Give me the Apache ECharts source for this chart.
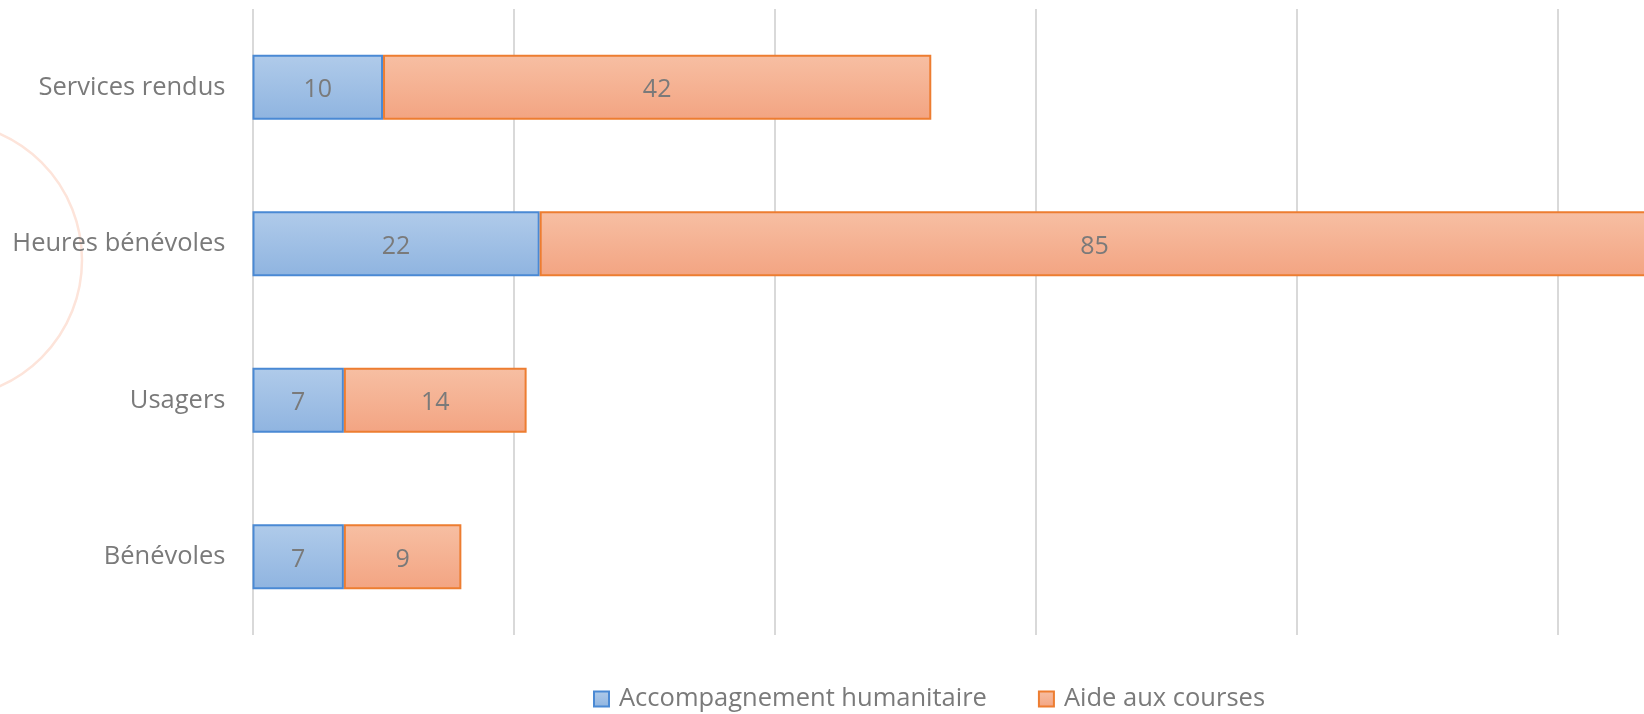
<!DOCTYPE html>
<html>
<head>
<meta charset="utf-8">
<title>Accompagnement humanitaire / Aide aux courses</title>
<script src="https://cdn.jsdelivr.net/npm/echarts@6/dist/echarts.min.js"></script>
<style>
    html, body { margin: 0; padding: 0; background: #fff; }
    #chart { width: 1644px; height: 714px; }
</style>
</head>
<body>
<div id="chart"></div>
<script>
// categories, bottom to top
const categories = ['Bénévoles', 'Usagers', 'Heures bénévoles', 'Services rendus'];
const accompagnement = [7, 7, 22, 10];
const aideCourses = [9, 14, 85, 42];
const seriesNames = ['Accompagnement humanitaire', 'Aide aux courses'];

const FONT = '"Open Sans", Lato, sans-serif';
const TEXT_GRAY = '#7a7a7a';

// the plot runs off the right edge in the source picture: axis stops where the canvas does
const AXIS_MAX = 106.6;

const vGrad = (top, bottom) => new echarts.graphic.LinearGradient(0, 0, 0, 1, [
    { offset: 0, color: top },
    { offset: 1, color: bottom }
]);

const chart = echarts.init(document.getElementById('chart'), null, { renderer: 'canvas' });

const barLabel = {
    show: true,
    position: 'inside',
    offset: [0, 3],
    color: TEXT_GRAY,
    fontSize: 25,
    fontFamily: FONT
};

chart.setOption({
    backgroundColor: '#ffffff',
    animation: false,
    textStyle: { fontFamily: FONT },
    // faint decorative arc on the left edge
    graphic: [{
        type: 'circle',
        z: -10,
        silent: true,
        shape: { cx: -56, cy: 260, r: 138 },
        style: { fill: 'none', stroke: '#fde4da', lineWidth: 2.5 }
    }],
    legend: {
        left: 593,
        top: 686,
        padding: 0,
        itemWidth: 15,
        itemHeight: 15,
        itemGap: 51,
        icon: 'rect',
        textStyle: { color: TEXT_GRAY, fontSize: 25.5, fontFamily: FONT, padding: [0, 0, 0, 5] },
        data: seriesNames
    },
    grid: { left: 252.5, top: 9, height: 626, right: 0 },
    xAxis: {
        type: 'value',
        min: 0,
        max: AXIS_MAX,
        interval: 20,
        axisLabel: { show: false },
        axisLine: { show: false },
        axisTick: { show: false },
        splitLine: { show: true, showMaxLine: false, lineStyle: { color: '#d9d9d9', width: 2 } }
    },
    yAxis: {
        type: 'category',
        data: categories,
        axisLine: { show: false },
        axisTick: { show: false },
        axisLabel: { color: TEXT_GRAY, fontSize: 25.5, fontFamily: FONT, margin: 27, padding: [5, 0, 0, 0] }
    },
    series: [
        {
            name: seriesNames[0],
            type: 'bar',
            stack: 'total',
            barWidth: 65,
            clip: false,
            data: accompagnement,
            label: barLabel,
            itemStyle: {
                color: vGrad('#b0cbea', '#8fb4e0'),
                borderColor: '#4a89d4',
                borderWidth: 2
            }
        },
        {
            name: seriesNames[1],
            type: 'bar',
            stack: 'total',
            barWidth: 65,
            clip: false,
            data: aideCourses,
            label: barLabel,
            itemStyle: {
                color: vGrad('#f7bfa3', '#f3a482'),
                borderColor: '#ed7d31',
                borderWidth: 2
            }
        }
    ]
});
</script>
</body>
</html>
